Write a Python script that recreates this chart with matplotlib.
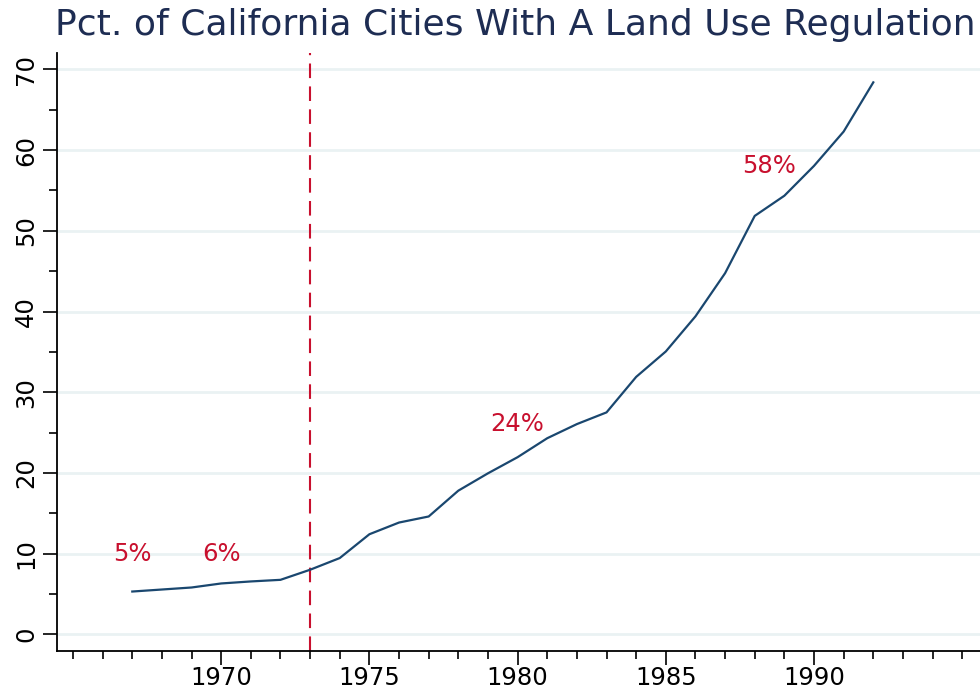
import numpy as np
import matplotlib
matplotlib.use("Agg")
import matplotlib.pyplot as plt
from matplotlib.ticker import MultipleLocator

# share of California cities with a land use regulation
years = [1967, 1968, 1969, 1970, 1971, 1972, 1973, 1974, 1975, 1976, 1977, 1978, 1979,
         1980, 1981, 1982, 1983, 1984, 1985, 1986, 1987, 1988, 1989, 1990, 1991, 1992]
pct = [5.3, 5.55, 5.8, 6.3, 6.55, 6.75, 8.0, 9.45, 12.4, 13.85, 14.6, 17.8, 19.95,
       21.95, 24.3, 26.05, 27.5, 31.9, 35.05, 39.4, 44.75, 51.85, 54.35, 58.05, 62.3, 68.4]

label_x = [1967, 1970, 1980, 1988.5]
label_y = [10, 10, 26, 58]
label_txt = ["5%", "6%", "24%", "58%"]

event_year = 1973

LINE = "#1a476f"
RED = "#c8102e"
GRID = "#eaf2f3"

fig = plt.figure(figsize=(9.8, 6.9), dpi=100)
ax = fig.add_axes([56.7 / 980, 1 - 651 / 690, 1 - 56.7 / 980, (651 - 53.3) / 690])

ax.plot(years, pct, color=LINE, lw=1.6, zorder=3)
ax.axvline(event_year, color=RED, lw=1.5, dashes=(7, 4), zorder=2)
for x, y, t in zip(label_x, label_y, label_txt):
    ax.text(x, y, t, color=RED, fontsize=17.5, ha="center", va="center")

ax.set_xlim(1964.45, 1995.6)
ax.set_ylim(-2.07, 72)
ax.xaxis.set_minor_locator(MultipleLocator(1))
ax.yaxis.set_major_locator(MultipleLocator(10))
ax.yaxis.set_minor_locator(MultipleLocator(5))
ax.set_xticks(range(1970, 1991, 5))
ax.tick_params(which="major", length=10, width=1.2, labelsize=17.5)
ax.tick_params(axis="x", which="major", pad=1)
ax.tick_params(which="minor", length=6, width=1.2)
plt.setp(ax.get_yticklabels(), rotation=90, va="center")

ax.grid(axis="y", which="major", color=GRID, lw=2)
ax.set_axisbelow(True)
for s in ["top", "right"]:
    ax.spines[s].set_visible(False)
for s in ["left", "bottom"]:
    ax.spines[s].set_linewidth(1.3)

fig.text(55 / 980, 1 - 25 / 690, "Pct. of California Cities With A Land Use Regulation",
         fontsize=26, color="#1e2d53", ha="left", va="center")

fig.savefig("out.png", dpi=100)
